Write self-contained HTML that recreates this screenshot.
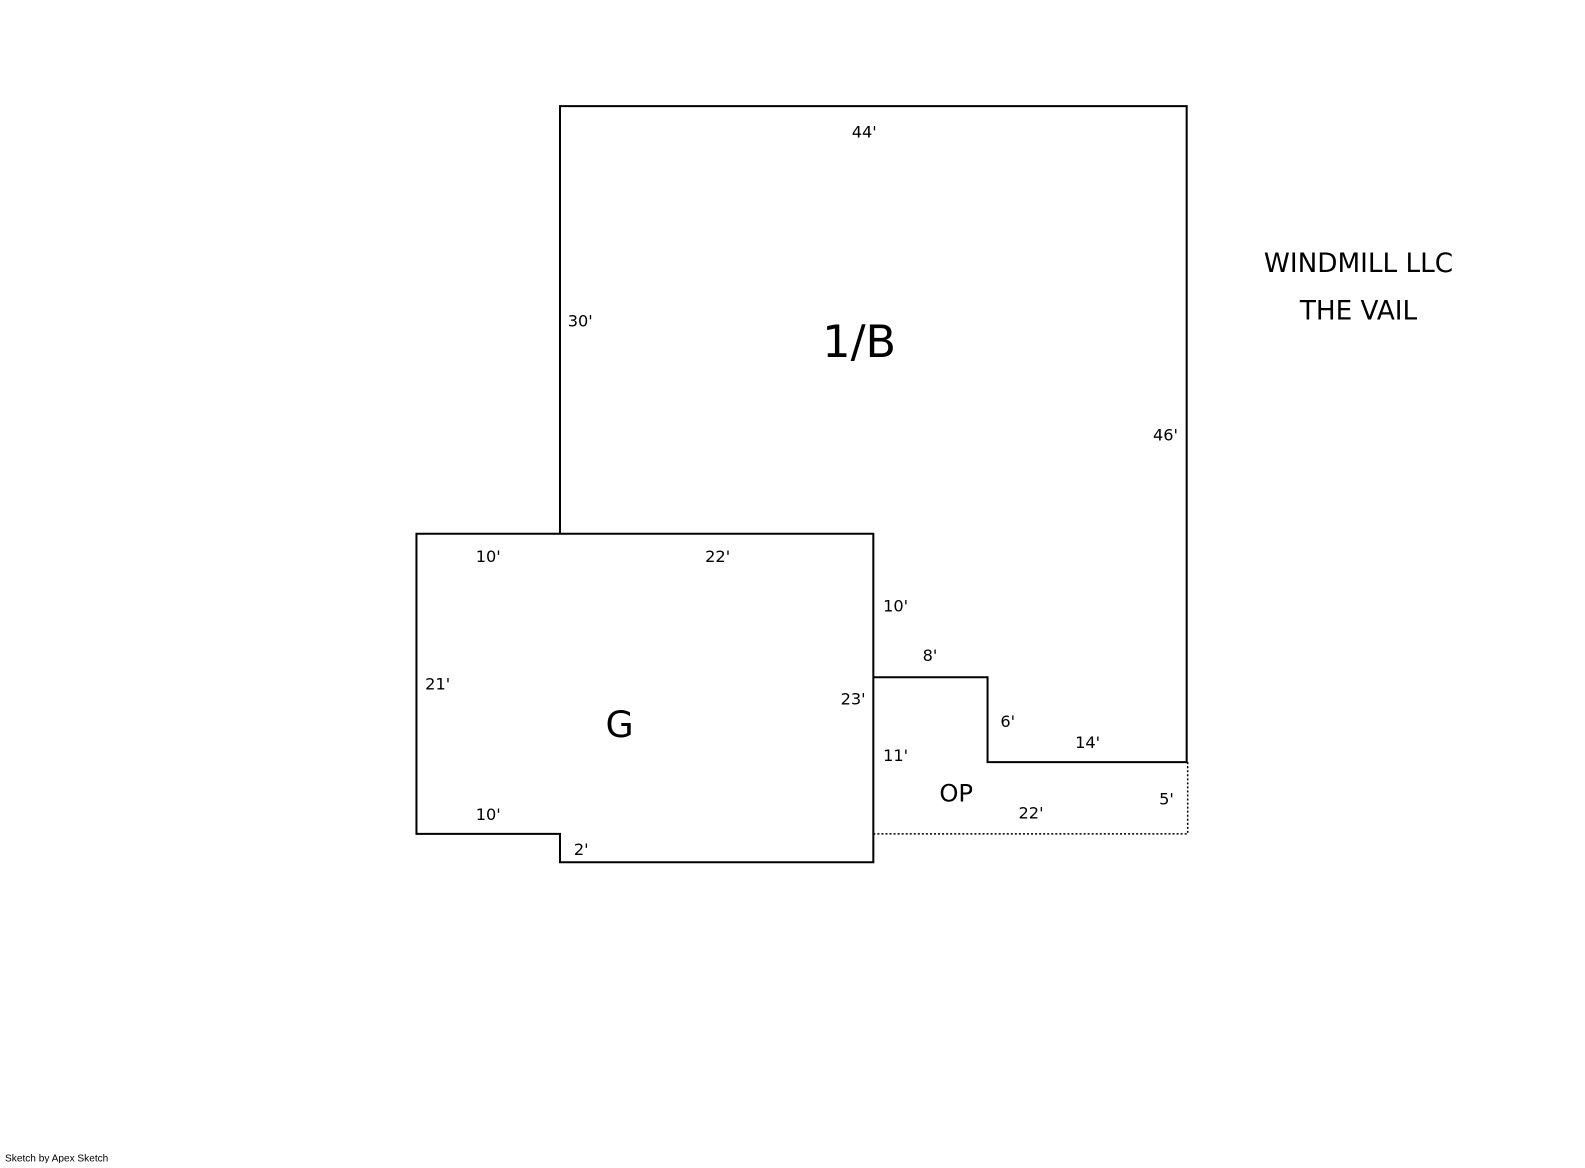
<!DOCTYPE html>
<html><head><style>
body{margin:0;background:#fff;}
svg text{font-family:"DejaVu Sans","Liberation Sans",sans-serif;fill:#000;}
</style></head><body>
<svg width="1585" height="1163" xmlns="http://www.w3.org/2000/svg">
<g transform="scale(1.0108)">
<g fill="none" stroke="#000" stroke-width="2">
<path d="M554,528 V105 H1174 V754 H977 V670 H864"/>
<path d="M412,528 H864 V853 H554 V825 H412 Z"/>
</g>
<path d="M864,825 H1175 V754" fill="none" stroke="#000" stroke-width="1.5" stroke-dasharray="2,2"/>
<g font-size="16" text-anchor="middle">
<text x="855" y="136">44'</text>
<text x="574" y="323">30'</text>
<text x="1153" y="436">46'</text>
<text x="483" y="556">10'</text>
<text x="710" y="556">22'</text>
<text x="886" y="605">10'</text>
<text x="920" y="654">8'</text>
<text x="433" y="682">21'</text>
<text x="844" y="697">23'</text>
<text x="997" y="719">6'</text>
<text x="1076" y="740">14'</text>
<text x="886" y="753">11'</text>
<text x="1154" y="796">5'</text>
<text x="1020" y="810">22'</text>
<text x="483" y="811">10'</text>
<text x="575" y="846">2'</text>
</g>
<text x="850" y="353" font-size="44" text-anchor="middle">1/B</text>
<text x="613" y="729" font-size="36" text-anchor="middle">G</text>
<text x="946" y="793" font-size="24" text-anchor="middle">OP</text>
<text x="1344" y="269" font-size="26" text-anchor="middle">WINDMILL LLC</text>
<text x="1344" y="316" font-size="26" text-anchor="middle">THE VAIL</text>
<text x="5" y="1149" font-size="10" style="font-family:'Liberation Sans',sans-serif">Sketch by Apex Sketch</text>
</g>
</svg>
</body></html>
